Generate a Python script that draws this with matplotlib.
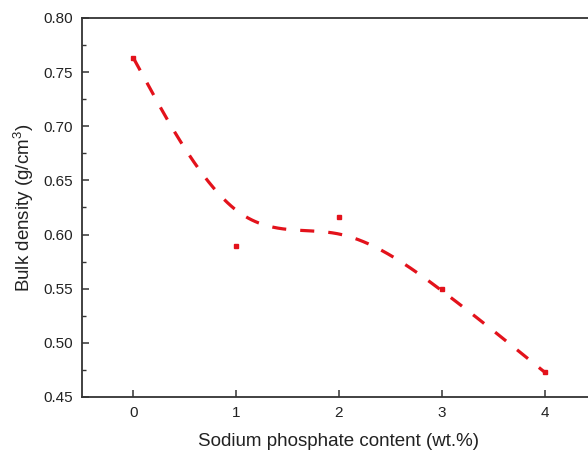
import numpy as np
import matplotlib
matplotlib.use("Agg")
import matplotlib.pyplot as plt
from matplotlib.ticker import MultipleLocator

plt.rcParams['font.family'] = ['Liberation Sans', 'DejaVu Sans']
plt.rcParams['mathtext.fontset'] = 'custom'
plt.rcParams['mathtext.rm'] = 'Liberation Sans'

content = [0, 1, 2, 3, 4]
density = [0.763, 0.589, 0.616, 0.550, 0.473]

def bspline(px, py, n=60):
    # uniform cubic B-spline, end control points tripled
    P = np.column_stack([px, py]).astype(float)
    Q = np.vstack([P[0], P[0]] + list(P) + [P[-1], P[-1]])
    t = np.linspace(0, 1, n)
    B = np.column_stack([(1 - t) ** 3, 3 * t ** 3 - 6 * t ** 2 + 4,
                         -3 * t ** 3 + 3 * t ** 2 + 3 * t + 1, t ** 3]) / 6.0
    segs = [B @ Q[i:i + 4] for i in range(len(Q) - 3)]
    out = np.vstack(segs)
    return out[:, 0], out[:, 1]

fig = plt.figure(figsize=(5.88, 4.55), dpi=100)
ax = fig.add_axes([0.1395, 0.1275, 0.874, 0.833])

cx, cy = bspline(content, density)
red = '#e3121b'
ax.plot(cx, cy, color=red, lw=2.3, linestyle=(0, (4.4, 4.4)), dash_capstyle='butt')
ax.plot(content, density, linestyle='none', marker='s', ms=3.5, color=red, mec=red)

ax.set_xlim(-0.5, 4.5)
ax.set_ylim(0.45, 0.80)
ax.xaxis.set_major_locator(MultipleLocator(1))
ax.yaxis.set_major_locator(MultipleLocator(0.05))
ax.yaxis.set_minor_locator(MultipleLocator(0.025))
ax.yaxis.set_major_formatter(matplotlib.ticker.FormatStrFormatter('%.2f'))
ax.tick_params(direction='in', length=5, width=1.1, labelsize=11, color='#333333', labelcolor='#222222', pad=6.5)
ax.tick_params(which='minor', direction='in', length=3, width=1.0, color='#333333')
ax.tick_params(axis='x', pad=6.5)
for s in ax.spines.values():
    s.set_linewidth(1.3)
    s.set_color('#333333')

ax.set_xlabel('Sodium phosphate content (wt.%)', fontsize=13.5, color='#222222', labelpad=9)
ax.set_ylabel('Bulk density (g/cm$^{\\mathregular{3}}$)', fontsize=13.5, color='#222222', labelpad=5)

fig.savefig('out.png', dpi=100)
